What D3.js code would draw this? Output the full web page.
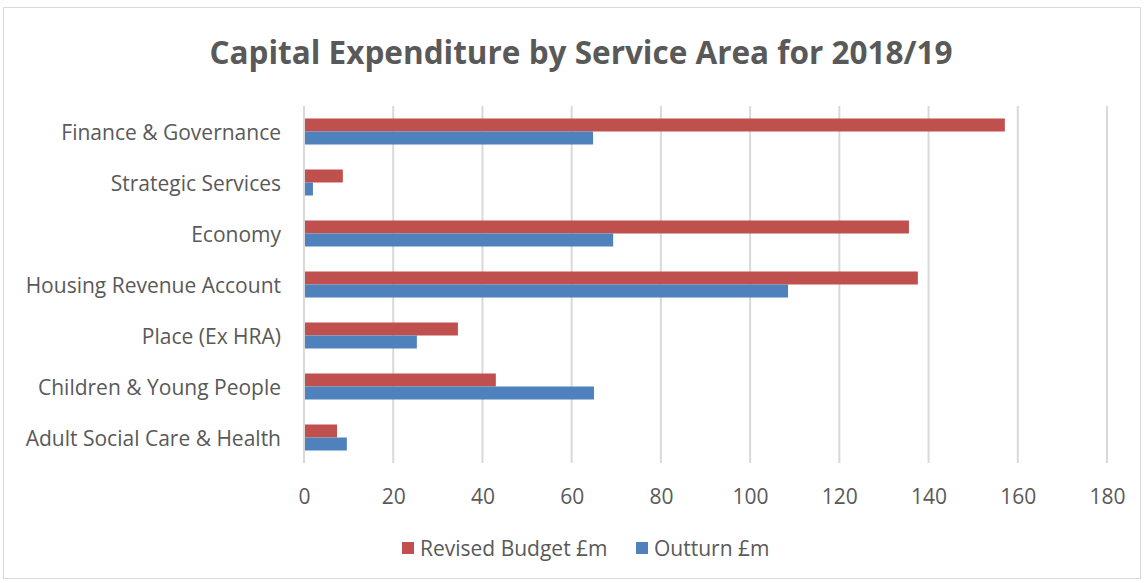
<!DOCTYPE html>
<html><head><meta charset="utf-8">
<script src="https://cdn.jsdelivr.net/npm/d3@7"></script>
<style>body{margin:0;background:#fff}svg{display:block}text{font-family:"Open Sans",sans-serif;fill:#595959}</style>
</head><body><svg id="c" width="1144" height="583"></svg>
<script>
const categories = ["Finance & Governance","Strategic Services","Economy","Housing Revenue Account","Place (Ex HRA)","Children & Young People","Adult Social Care & Health"];
const seriesNames = ["Revised Budget £m","Outturn £m"];
const revisedBudget = [157.1, 8.7, 135.6, 137.6, 34.5, 43.0, 7.4];
const outturn = [64.8, 2.0, 69.3, 108.5, 25.3, 65.0, 9.6];
const xTicks = [0,20,40,60,80,100,120,140,160,180];
const colors = ["#C0504D","#4F81BD"];
const title = "Capital Expenditure by Service Area for 2018/19";

const svg = d3.select("#c");
svg.append("rect").attr("x",3.5).attr("y",7.5).attr("width",1137).attr("height",571).attr("fill","#fff").attr("stroke","#D9D9D9");

const x = d3.scaleLinear().domain([0,180]).range([304,1107]);
const y = d3.scaleBand().domain(categories).range([106,463]).paddingInner(0.49).paddingOuter(0.245);
const ys = d3.scaleBand().domain(seriesNames).range([0,y.bandwidth()]);

// gridlines
svg.append("g").selectAll("line").data(xTicks.slice(1)).join("line")
  .attr("x1",d=>x(d)).attr("x2",d=>x(d)).attr("y1",106).attr("y2",463)
  .attr("stroke","#D9D9D9").attr("stroke-width",2);

const data = [revisedBudget,outturn];
const g = svg.append("g");
categories.forEach((c,i)=>{
  seriesNames.forEach((s,j)=>{
    g.append("rect").attr("x",x(0)).attr("y",y(c)+ys(s)).attr("width",x(data[j][i])-x(0)).attr("height",ys.bandwidth()).attr("fill",colors[j]);
  });
});
// axis line
svg.append("line").attr("x1",x(0)).attr("x2",x(0)).attr("y1",106).attr("y2",463).attr("stroke","#D9D9D9").attr("stroke-width",2);

// x axis labels
const xa = d3.axisBottom(x).tickValues(xTicks).tickSize(0).tickPadding(0);
const xg = svg.append("g").attr("transform","translate(0,497)").call(xa);
xg.select(".domain").remove();
xg.selectAll("text").attr("dy","0.35em").style("font-size","21px").attr("fill","#595959").style("font-family","'Open Sans',sans-serif");

// y axis labels
const ya = d3.axisLeft(y).tickSize(0).tickPadding(23);
const yg = svg.append("g").attr("transform",`translate(${x(0)},1.5)`).call(ya);
yg.select(".domain").remove();
yg.selectAll("text").style("font-size","21px").attr("fill","#595959").style("font-family","'Open Sans',sans-serif");

svg.append("text").attr("x",581).attr("y",64).attr("text-anchor","middle").attr("font-weight","bold").style("font-size","31.5px").text(title);

// legend
const leg = svg.append("g");
const legX = [402, 636];
seriesNames.forEach((s,j)=>{
  leg.append("rect").attr("x",legX[j]).attr("y",542).attr("width",12).attr("height",12).attr("fill",colors[j]);
  leg.append("text").attr("x",legX[j]+18).attr("y",549).attr("dy","0.35em").style("font-size","21px").text(s);
});
</script></body></html>
